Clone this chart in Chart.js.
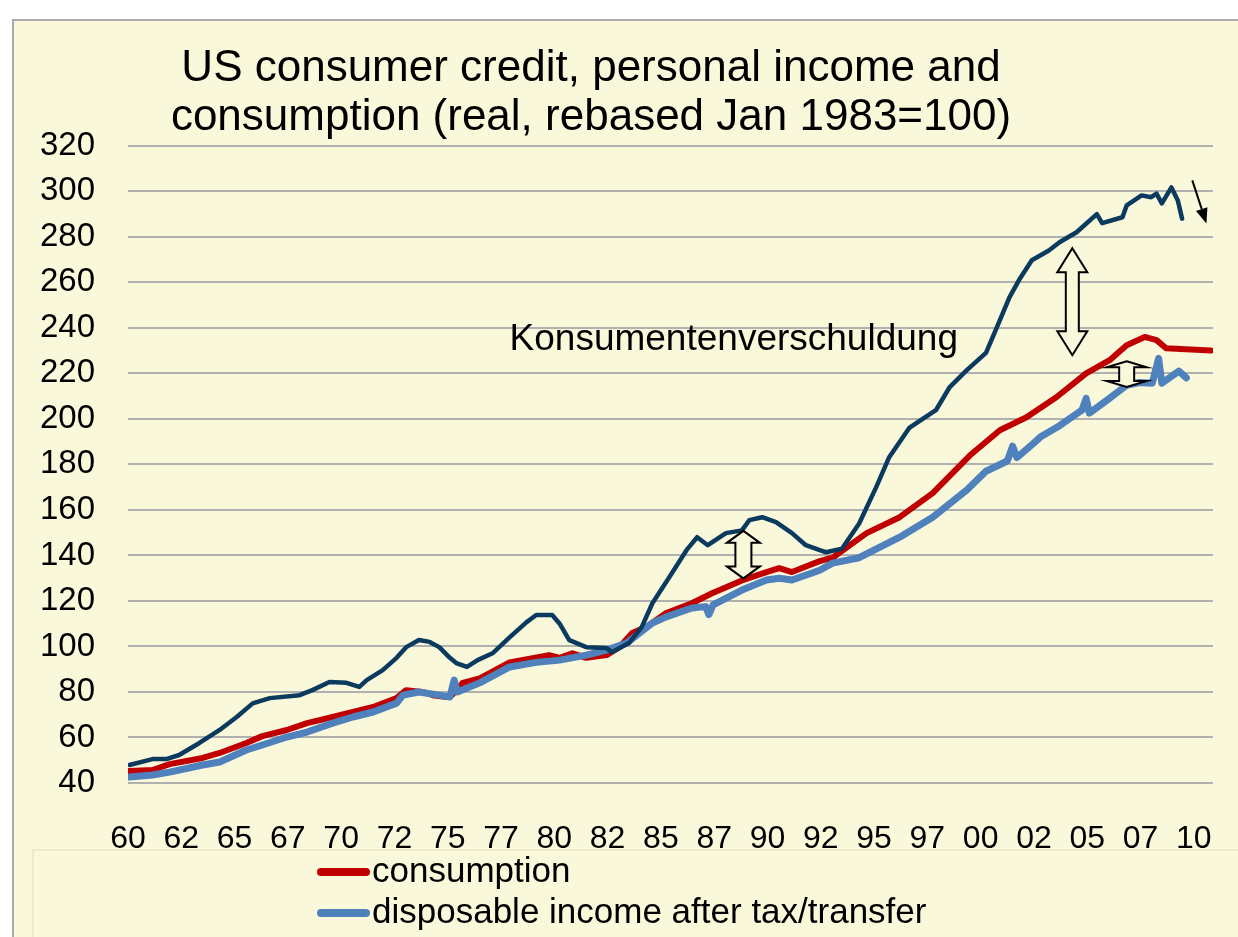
<!DOCTYPE html>
<html><head><meta charset="utf-8">
<script src="https://cdn.jsdelivr.net/npm/chart.js@4.4.0/dist/chart.umd.min.js"></script>
<style>
html,body{margin:0;padding:0;background:#fff;overflow:hidden;width:1238px;height:937px;}
#frame{position:absolute;left:12px;top:19px;width:1226px;height:918px;background:#FAF8DA;border-left:2px solid #ABABAB;border-top:2px solid #ABABAB;box-sizing:border-box;}
#wrap{position:absolute;left:-31px;top:0;width:1269px;height:937px;}
</style></head><body>
<div id="frame"></div>
<div id="wrap"><canvas id="c"></canvas></div>
<script>
// ---- data (real index, Jan 1983 = 100) ----
const creditYears = [1960.07,1961.15,1961.8,1962.4,1963.35,1964.3,1965.1,1965.85,1966.65,1968.05,1968.65,1969.45,1970.25,1970.85,1971.2,1971.95,1972.6,1973.05,1973.65,1974.15,1974.6,1975.1,1975.4,1975.9,1976.4,1977.1,1977.9,1978.7,1979.15,1979.9,1980.25,1980.7,1981.5,1982.45,1982.7,1983.5,1984.1,1984.6,1985.4,1986.2,1986.7,1987.2,1988.05,1988.8,1989.15,1989.75,1990.4,1991.15,1991.8,1992.45,1992.75,1993.5,1994.3,1995.1,1995.7,1996.65,1997.9,1998.55,1999.35,2000.25,2000.75,2001.35,2001.8,2002.4,2003.2,2003.7,2004.5,2005.45,2005.7,2006.65,2006.85,2007.55,2008.0,2008.25,2008.5,2008.95,2009.25,2009.45];
const creditValues = [47.9,50.5,50.5,52.3,57.6,63.3,69,75,77.3,78.6,80.8,84.4,84,82.2,85.2,89.6,95,99.7,102.8,102,99.7,95,92.7,91,94,97,104,110.7,113.8,113.8,110,102.8,99.7,99.3,97.5,101.5,108.5,119,130.5,142.3,148,144.5,149.8,151,155.5,156.8,154.6,149.8,144.5,142.3,141.4,143,154,170,183,196,203.8,214,221.4,229,240,253.4,261,269.7,274,277.6,282,290,286,288.6,293.8,298.2,297.4,299,294.7,301.7,296,288];

const consYears = [1960.07,1961.15,1961.95,1963.5,1964.3,1965.55,1966.3,1967.45,1968.4,1969.6,1970.55,1971.5,1972.6,1973.05,1973.8,1974.3,1974.95,1975.2,1975.7,1976.5,1977.9,1979.75,1980.25,1980.85,1981.5,1982.45,1983.05,1983.65,1984.3,1985.25,1986.45,1987.4,1988.8,1989.95,1990.55,1991.15,1991.95,1992.45,1993.05,1994.65,1996.2,1997.75,1999.5,2000.9,2002.15,2003.55,2004.95,2006.05,2006.85,2007.7,2008.25,2008.7,2010.8];
const consValues = [45.3,45.7,48.3,51,53.2,57.6,60.6,63.3,66.3,69,71.2,73.4,77.3,80.8,80,78.6,77.8,78.6,84,86,93,96.2,95,97,95,96.2,99.7,105.9,108.5,114.7,119,123.4,129,132.7,134.4,132.7,135.7,137.5,139,149.8,156.8,167.4,184,195,200.7,209.5,220,225.8,232.4,236,234.6,231,230];

const incYears = [1960.07,1961.15,1961.95,1963.5,1964.3,1965.55,1966.3,1967.45,1968.4,1969.6,1970.55,1971.5,1972.6,1972.9,1973.65,1974.6,1975.1,1975.3,1975.45,1976.5,1977.9,1979.15,1980.25,1981.5,1982.45,1983.4,1984.6,1985.25,1986.45,1987.1,1987.25,1987.45,1988.8,1989.95,1990.55,1991.15,1992.45,1993.05,1994.3,1996.2,1997.75,1999.35,2000.25,2001.25,2001.5,2001.7,2002.45,2002.8,2003.7,2004.75,2004.95,2005.1,2005.9,2006.85,2007.45,2008.05,2008.35,2008.5,2009.3,2009.65];
const incValues = [42.6,43.5,44.8,47.9,49.2,54.5,56.7,60.2,62.4,66.3,69,71.2,75.1,78.6,80,78.6,77.8,85.2,80,84,91,93,94,96.2,98.4,101.5,110.3,113,116.9,117.5,114,118.3,124.8,129.2,130,129.2,133.5,136.6,139,148,156.8,168.7,177,181.5,188,183,189,192,197,203.8,209,202.5,208,214.8,216,215.7,226.6,215.7,221,218];

const xTickYears = [1960,1962.5,1965,1967.5,1970,1972.5,1975,1977.5,1980,1982.5,1985,1987.5,1990,1992.5,1995,1997.5,2000,2002.5,2005,2007.5,2010];
const xTickLabels = ['60','62','65','67','70','72','75','77','80','82','85','87','90','92','95','97','00','02','05','07','10'];

const titleLines = ['US consumer credit, personal income and', 'consumption (real, rebased Jan 1983=100)'];
const annotationText = 'Konsumentenverschuldung';

// ---- annotation specs (data coordinates) ----
const textAnchor = {x: 1977.9, y: 234.6};
const hollowArrows = [
  {x: 2004.3, top: 275, bottom: 228, shaft: 13, head: 30, headLen: 24},
  {x: 1988.87, top: 150.8, bottom: 129.9, shaft: 16, head: 33, headLen: 12},
  {x: 2006.85, top: 225.3, bottom: 214, shaft: 15, head: 40, headLen: 6}
];
const solidArrow = {x1: 2009.93, y1: 304.8, x2: 2010.59, y2: 285.9};

const SHIFT = 31;
const FONT = "'Liberation Sans', Arial, Helvetica, sans-serif";
const BG = '#FAF8DA';

function pts(xs, ys) { return xs.map((x, i) => ({x: x, y: ys[i]})); }

const overlay = {
  id: 'overlay',
  afterDraw(chart) {
    const ctx = chart.ctx, xs = chart.scales.x, ys = chart.scales.y;
    ctx.save();
    // annotation text
    ctx.font = '37px ' + FONT;
    ctx.fillStyle = '#000';
    ctx.textAlign = 'left';
    ctx.textBaseline = 'middle';
    ctx.fillText(annotationText, xs.getPixelForValue(textAnchor.x), ys.getPixelForValue(textAnchor.y));
    // hollow double arrows
    hollowArrows.forEach(a => {
      const cx = xs.getPixelForValue(a.x), t = ys.getPixelForValue(a.top), b = ys.getPixelForValue(a.bottom);
      const s = a.shaft / 2, h = a.head / 2, L = a.headLen;
      ctx.beginPath();
      ctx.moveTo(cx, t);
      ctx.lineTo(cx + h, t + L);
      ctx.lineTo(cx + s, t + L);
      ctx.lineTo(cx + s, b - L);
      ctx.lineTo(cx + h, b - L);
      ctx.lineTo(cx, b);
      ctx.lineTo(cx - h, b - L);
      ctx.lineTo(cx - s, b - L);
      ctx.lineTo(cx - s, t + L);
      ctx.lineTo(cx - h, t + L);
      ctx.closePath();
      ctx.fillStyle = BG;
      ctx.fill();
      ctx.lineWidth = 2;
      ctx.strokeStyle = '#000';
      ctx.lineJoin = 'miter';
      ctx.stroke();
    });
    // solid arrow
    const x1 = xs.getPixelForValue(solidArrow.x1), y1 = ys.getPixelForValue(solidArrow.y1);
    const x2 = xs.getPixelForValue(solidArrow.x2), y2 = ys.getPixelForValue(solidArrow.y2);
    const ang = Math.atan2(y2 - y1, x2 - x1), hl = 15, hw = 6;
    const bx = x2 - hl * Math.cos(ang), by = y2 - hl * Math.sin(ang);
    ctx.beginPath(); ctx.moveTo(x1, y1); ctx.lineTo(bx, by);
    ctx.lineWidth = 2; ctx.strokeStyle = '#000'; ctx.stroke();
    ctx.beginPath();
    ctx.moveTo(x2, y2);
    ctx.lineTo(bx + hw * Math.sin(ang), by - hw * Math.cos(ang));
    ctx.lineTo(bx - hw * Math.sin(ang), by + hw * Math.cos(ang));
    ctx.closePath(); ctx.fillStyle = '#000'; ctx.fill();
    // legend box
    ctx.strokeStyle = '#E8E6C2';
    ctx.lineWidth = 1.5;
    ctx.strokeRect(33 + SHIFT, 850, 1240, 100);
    // legend items
    const items = chart.data.datasets.filter(d => d.inLegend);
    items.forEach((d, i) => {
      const yy = 872 + i * 41;
      ctx.beginPath();
      ctx.moveTo(321 + SHIFT, yy); ctx.lineTo(366 + SHIFT, yy);
      ctx.lineCap = 'round';
      ctx.lineWidth = 8; ctx.strokeStyle = d.borderColor; ctx.stroke();
      ctx.font = '35px ' + FONT;
      ctx.fillStyle = '#000';
      ctx.textAlign = 'left'; ctx.textBaseline = 'middle';
      ctx.fillText(d.label, 372 + SHIFT, yy);
    });
    ctx.restore();
  }
};

new Chart(document.getElementById('c'), {
  type: 'line',
  data: {
    datasets: [
      {label: 'consumption', data: pts(consYears, consValues), borderColor: '#C00000', borderWidth: 6, order: 3, inLegend: true},
      {label: 'disposable income after tax/transfer', data: pts(incYears, incValues), borderColor: '#4F81BD', borderWidth: 7, order: 2, inLegend: true},
      {label: 'consumer credit', data: pts(creditYears, creditValues), borderColor: '#0B3A5F', borderWidth: 4.5, order: 1, inLegend: false}
    ]
  },
  options: {
    responsive: true,
    maintainAspectRatio: false,
    animation: false,
    events: [],
    elements: {
      point: {radius: 0},
      line: {tension: 0, fill: false, borderJoinStyle: 'round', borderCapStyle: 'round'}
    },
    layout: {padding: {left: 0, right: 25, top: 0, bottom: 0}},
    plugins: {
      legend: {display: false},
      tooltip: {enabled: false},
      title: {
        display: true,
        text: titleLines,
        color: '#000',
        font: {family: FONT, size: 44, weight: 'normal', lineHeight: 1.1},
        padding: {top: 45, bottom: 4}
      }
    },
    scales: {
      x: {
        type: 'linear',
        min: 1960,
        max: 2010.9,
        afterBuildTicks(s) { s.ticks = xTickYears.map(v => ({value: v})); },
        afterFit(s) { s.height = 154; s.paddingLeft = 0; s.paddingRight = 0; },
        ticks: {
          autoSkip: false, maxRotation: 0, minRotation: 0,
          color: '#000', font: {family: FONT, size: 32}, padding: 37,
          callback: (v, i) => xTickLabels[i]
        },
        grid: {display: false, drawTicks: false},
        border: {display: false}
      },
      y: {
        min: 40, max: 320,
        afterFit(s) { s.width = 128 + SHIFT; },
        ticks: {stepSize: 20, color: '#000', font: {family: FONT, size: 33}, padding: 33},
        grid: {color: '#B0B0B0', lineWidth: 2, drawTicks: false},
        border: {display: false}
      }
    }
  },
  plugins: [overlay]
});
</script>
</body></html>
